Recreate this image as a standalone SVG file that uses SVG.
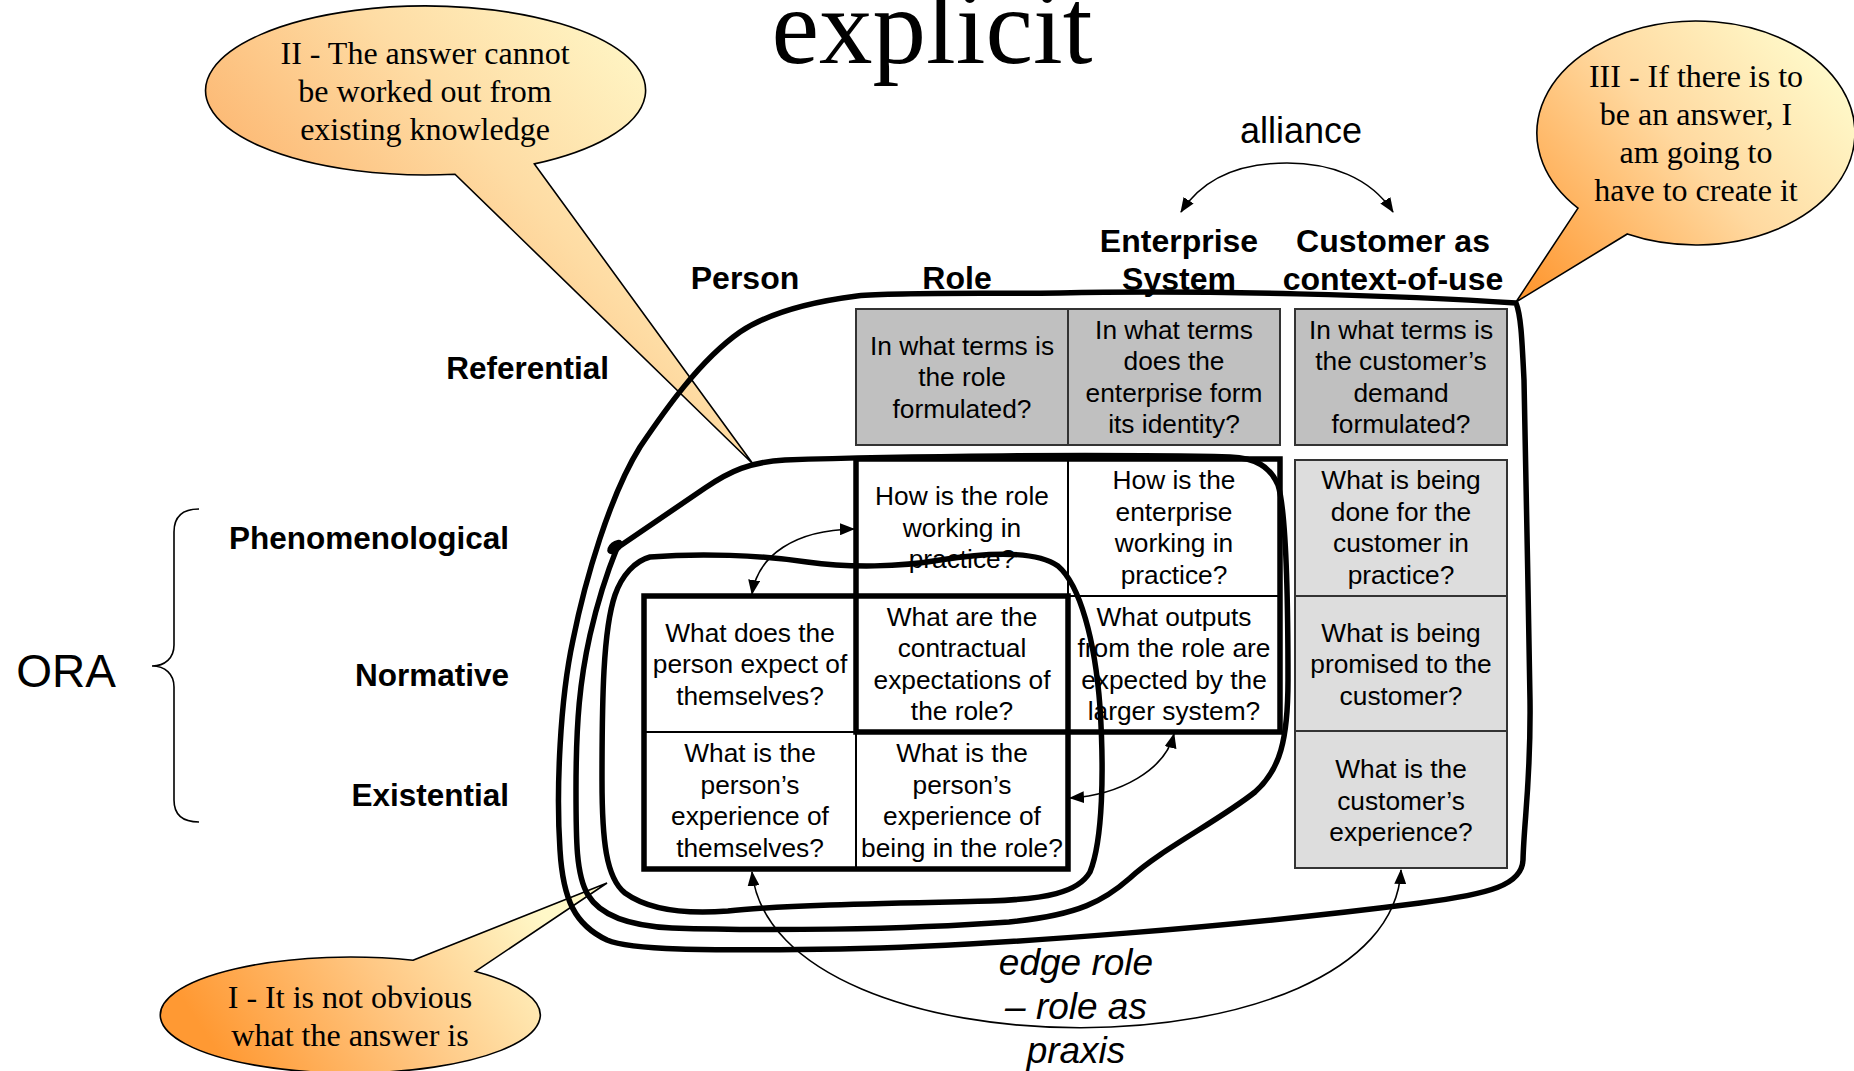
<svg xmlns="http://www.w3.org/2000/svg" width="1854" height="1071" viewBox="0 0 1854 1071">
<style>
.ct{font-family:"Liberation Sans",Arial,sans-serif;font-size:26.3px;text-anchor:middle;fill:#000}
.hdr{font-family:"Liberation Sans",Arial,sans-serif;font-weight:bold;font-size:32px;text-anchor:middle;fill:#000}
.rl{font-family:"Liberation Sans",Arial,sans-serif;font-weight:bold;font-size:31.5px;text-anchor:end;fill:#000}
.sf{font-family:"Liberation Serif","Times New Roman",serif;font-size:32px;text-anchor:middle;fill:#000}
.loop{fill:none;stroke:#000;stroke-width:5.5;stroke-linejoin:round;stroke-linecap:round}
.wc{fill:#fff;stroke:#000;stroke-width:2}
.gd{fill:#C0C0C0;stroke:#333;stroke-width:2}
.gl{fill:#DDDDDD;stroke:#333;stroke-width:2}
.thick{fill:none;stroke:#000;stroke-width:5.5}
.conn{fill:none;stroke:#000;stroke-width:1.6;marker-start:url(#ah);marker-end:url(#ah)}
.bub{stroke:#000;stroke-width:1.6}
</style>
<defs>
<marker id="ah" viewBox="0 0 15 12" refX="14" refY="6" markerWidth="15" markerHeight="12" markerUnits="userSpaceOnUse" orient="auto-start-reverse"><path d="M0,0 L15,6 L0,12 z" fill="#000"/></marker>
<linearGradient id="g2" gradientUnits="userSpaceOnUse" x1="220" y1="190" x2="560" y2="-110"><stop offset="0" stop-color="#FCB36C"/><stop offset="0.5" stop-color="#FEDCA4"/><stop offset="1" stop-color="#FFFBCC"/></linearGradient>
<linearGradient id="g1" gradientUnits="userSpaceOnUse" x1="230" y1="1071" x2="520" y2="880"><stop offset="0" stop-color="#FF9933"/><stop offset="0.5" stop-color="#FFC783"/><stop offset="1" stop-color="#FFF8C8"/></linearGradient>
<linearGradient id="g3" gradientUnits="userSpaceOnUse" x1="1530" y1="290" x2="1820" y2="40"><stop offset="0" stop-color="#FF9933"/><stop offset="0.55" stop-color="#FFD9A0"/><stop offset="1" stop-color="#FFFBCC"/></linearGradient>
</defs>
<rect x="0" y="0" width="1854" height="1071" fill="#fff"/>

<text x="932" y="63" font-family="Liberation Serif,Times New Roman,serif" font-size="107" text-anchor="middle" fill="#000">explicit</text>

<g id="callout-II">
<path class="bub" fill="url(#g2)" d="M 455,174.2 L 753,464 L 534.4,163.9 A 220 84.5 0 1 0 455,174.2 Z"/>
<text class="sf"><tspan x="425" y="64">II - The answer cannot</tspan><tspan x="425" y="102">be worked out from</tspan><tspan x="425" y="140">existing knowledge</tspan></text>
</g>
<g id="callout-III">
<path class="bub" fill="url(#g3)" d="M 1578,208.1 L 1516,302 L 1627.3,234 A 159 112 0 1 0 1578,208.1 Z"/>
<text class="sf"><tspan x="1696" y="87">III - If there is to</tspan><tspan x="1696" y="125">be an answer, I</tspan><tspan x="1696" y="163">am going to</tspan><tspan x="1696" y="201">have to create it</tspan></text>
</g>
<g id="callout-I">
<path class="bub" fill="url(#g1)" d="M 413,960.3 L 607,883 L 475.4,971.4 A 190 58 0 1 1 413,960.3 Z"/>
<text class="sf"><tspan x="350" y="1008">I - It is not obvious</tspan><tspan x="350" y="1046">what the answer is</tspan></text>
</g>

<g id="headers">
<text class="hdr" x="745" y="289">Person</text>
<text class="hdr" x="957" y="289">Role</text>
<text class="hdr"><tspan x="1179" y="252">Enterprise</tspan><tspan x="1179" y="290">System</tspan></text>
<text class="hdr"><tspan x="1393" y="252">Customer as</tspan><tspan x="1393" y="290">context-of-use</tspan></text>
<text x="1301" y="143" font-family="Liberation Sans,Arial,sans-serif" font-size="36" text-anchor="middle" fill="#000">alliance</text>
</g>
<g id="row-labels">
<text class="rl" x="609" y="379">Referential</text>
<text class="rl" x="509" y="549" font-size="31">Phenomenological</text>
<text class="rl" x="509" y="686">Normative</text>
<text class="rl" x="509" y="806">Existential</text>
<text x="66" y="687" font-family="Liberation Sans,Arial,sans-serif" font-size="46" text-anchor="middle" fill="#000">ORA</text>
<path d="M 199,509 C 183,509 174,516 174,532 L 174,645 C 174,658 165,666 152,666 C 165,666 174,674 174,687 L 174,800 C 174,815 183,822 199,822" fill="none" stroke="#000" stroke-width="1.6"/>
</g>

<g id="ref-role"><rect class="gd" x="856" y="309" width="212" height="136"/>
<text class="ct"><tspan x="962" y="354.5">In what terms is</tspan><tspan x="962" y="386">the role</tspan><tspan x="962" y="417.5">formulated?</tspan></text></g>
<g id="ref-enterprise"><rect class="gd" x="1068" y="309" width="212" height="136"/>
<text class="ct"><tspan x="1174" y="338.75">In what terms</tspan><tspan x="1174" y="370.25">does the</tspan><tspan x="1174" y="401.75">enterprise form</tspan><tspan x="1174" y="433.25">its identity?</tspan></text></g>
<g id="ref-customer"><rect class="gd" x="1295" y="309" width="212" height="136"/>
<text class="ct"><tspan x="1401" y="338.75">In what terms is</tspan><tspan x="1401" y="370.25">the customer’s</tspan><tspan x="1401" y="401.75">demand</tspan><tspan x="1401" y="433.25">formulated?</tspan></text></g>

<g id="phen-role"><rect class="wc" x="856" y="459" width="212" height="137"/>
<text class="ct"><tspan x="962" y="505">How is the role</tspan><tspan x="962" y="536.5">working in</tspan><tspan x="962" y="568">practice?</tspan></text></g>
<g id="phen-enterprise"><rect class="wc" x="1068" y="459" width="212" height="137"/>
<text class="ct"><tspan x="1174" y="489.25">How is the</tspan><tspan x="1174" y="520.75">enterprise</tspan><tspan x="1174" y="552.25">working in</tspan><tspan x="1174" y="583.75">practice?</tspan></text></g>
<g id="phen-customer"><rect class="gl" x="1295" y="460" width="212" height="136"/>
<text class="ct"><tspan x="1401" y="489.25">What is being</tspan><tspan x="1401" y="520.75">done for the</tspan><tspan x="1401" y="552.25">customer in</tspan><tspan x="1401" y="583.75">practice?</tspan></text></g>

<g id="norm-person"><rect class="wc" x="644" y="596" width="212" height="136"/>
<text class="ct"><tspan x="750" y="641.5">What does the</tspan><tspan x="750" y="673">person expect of</tspan><tspan x="750" y="704.5">themselves?</tspan></text></g>
<g id="norm-role"><rect class="wc" x="856" y="596" width="212" height="136"/>
<text class="ct"><tspan x="962" y="625.75">What are the</tspan><tspan x="962" y="657.25">contractual</tspan><tspan x="962" y="688.75">expectations of</tspan><tspan x="962" y="720.25">the role?</tspan></text></g>
<g id="norm-enterprise"><rect class="wc" x="1068" y="596" width="212" height="136"/>
<text class="ct"><tspan x="1174" y="625.75">What outputs</tspan><tspan x="1174" y="657.25">from the role are</tspan><tspan x="1174" y="688.75">expected by the</tspan><tspan x="1174" y="720.25">larger system?</tspan></text></g>
<g id="norm-customer"><rect class="gl" x="1295" y="596" width="212" height="135"/>
<text class="ct"><tspan x="1401" y="641.5">What is being</tspan><tspan x="1401" y="673">promised to the</tspan><tspan x="1401" y="704.5">customer?</tspan></text></g>

<g id="exist-person"><rect class="wc" x="644" y="732" width="212" height="137"/>
<text class="ct"><tspan x="750" y="762.25">What is the</tspan><tspan x="750" y="793.75">person’s</tspan><tspan x="750" y="825.25">experience of</tspan><tspan x="750" y="856.75">themselves?</tspan></text></g>
<g id="exist-role"><rect class="wc" x="856" y="732" width="212" height="137"/>
<text class="ct"><tspan x="962" y="762.25">What is the</tspan><tspan x="962" y="793.75">person’s</tspan><tspan x="962" y="825.25">experience of</tspan><tspan x="962" y="856.75">being in the role?</tspan></text></g>
<g id="exist-customer"><rect class="gl" x="1295" y="731" width="212" height="137"/>
<text class="ct"><tspan x="1401" y="778">What is the</tspan><tspan x="1401" y="809.5">customer’s</tspan><tspan x="1401" y="841">experience?</tspan></text></g>

<g id="thick-boxes">
<rect class="thick" x="856" y="459" width="424" height="273"/>
<rect class="thick" x="644" y="596" width="424" height="273"/>
</g>

<g id="loops">
<path class="loop" d="M 1516,303 C 1400,295 1200,290 1060,293 C 980,294 900,292 857,296 C 810,302 770,312 740,332 C 700,360 665,410 640,447 C 610,495 585,580 573,640 C 560,700 556,790 560,850 C 563,900 575,925 607,940 C 630,950 700,951 840,949 C 1000,946 1250,925 1420,903 C 1490,894 1522,885 1523,860 C 1524,820 1531,780 1530,700 C 1528,600 1526,450 1524,380 C 1522,340 1521,315 1516,303 Z"/>
<path class="loop" d="M 617,548 L 705,488 C 730,471 750,462 785,460 C 900,456 1100,454 1230,457 C 1255,458 1270,466 1278,485 C 1286,510 1288,600 1288,680 C 1288,740 1280,770 1255,792 C 1220,820 1160,850 1130,878 C 1105,900 1080,915 1009,922 C 900,930 760,931 672,928 C 630,926 600,915 588,895 C 576,875 576,840 576,790 C 576,720 580,680 590,635 C 598,600 606,575 617,548 Z"/>
<ellipse cx="615" cy="547" rx="9" ry="5.5" transform="rotate(-40 615 547)" fill="#000"/>
<path class="loop" d="M 650,557 C 700,553 760,555 807,562 C 850,568 900,567 940,560 C 985,553 1035,550 1058,566 C 1080,585 1095,640 1100,707 C 1104,770 1103,840 1090,872 C 1078,893 1045,899 990,901 C 900,903 780,905 728,911 C 690,914 650,911 625,893 C 606,878 602,840 602,780 C 602,700 603,630 615,595 C 622,575 635,561 650,557 Z"/>
</g>

<g id="connectors">
<path class="conn" d="M 1181,212 C 1205,175 1245,163 1287,163 C 1330,163 1370,177 1393,212"/>
<path class="conn" d="M 752,594 C 758,555 795,530 854,529"/>
<path class="conn" d="M 1070,798 C 1120,795 1165,770 1174,734"/>
<path class="conn" d="M 752,872 C 775,1080 1390,1080 1401,870"/>
</g>
<g id="edge-label">
<text font-family="Liberation Sans,Arial,sans-serif" font-size="37" font-style="italic" text-anchor="middle" fill="#000"><tspan x="1076" y="975">edge role</tspan><tspan x="1076" y="1019">– role as</tspan><tspan x="1076" y="1063">praxis</tspan></text>
</g>
</svg>
